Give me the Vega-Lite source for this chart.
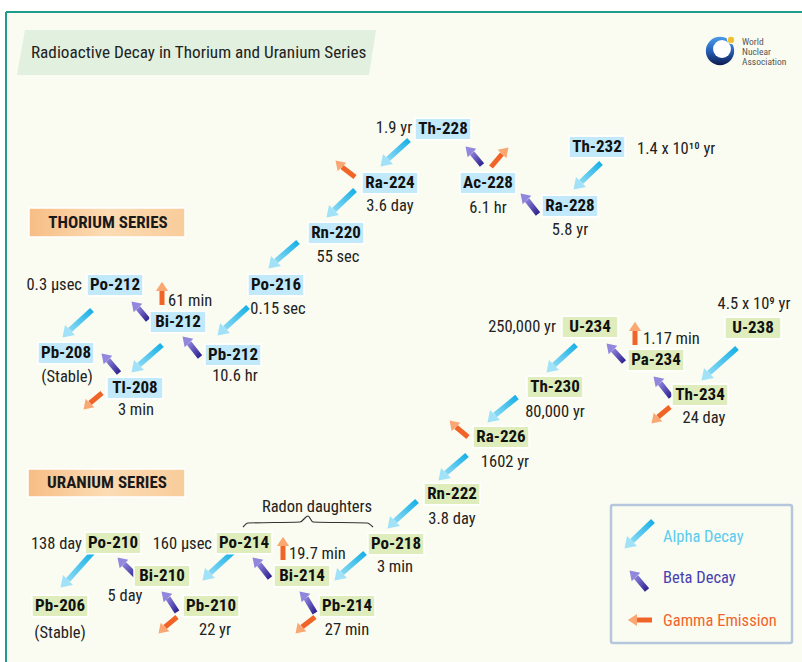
{
  "$schema": "https://vega.github.io/schema/vega-lite/v6.json",
  "width": 802,
  "height": 662,
  "autosize": {"type": "none"},
  "padding": 0,
  "background": "#ffffff",
  "config": {
    "view": {"stroke": null},
    "text": {"font": "Liberation Sans Narrow, Arial Narrow, Roboto Condensed, DejaVu Sans Condensed, sans-serif"}
  },
  "resolve": {"scale": {"color": "independent", "size": "independent", "angle": "independent"}},
  "datasets": {
    "frame": [{"x": 6, "y": 12, "x2": 802, "y2": 662}],
    "border": [{"x": 6, "y": 12, "x2": 802, "y2": 12}, {"x": 6, "y": 12, "x2": 6, "y2": 662}],
    "titlebar": [{"y": 30, "x": 25, "x2": 376}, {"y": 75, "x": 17, "x2": 369}],
    "title": [{"x": 31, "y": 53, "text": "Radioactive Decay in Thorium and Uranium Series"}],
    "logo": [
      {"part": "ring", "x": 720, "y": 51},
      {"part": "hole", "x": 722, "y": 49},
      {"part": "gap", "x": 732, "y": 39},
      {"part": "dot", "x": 731, "y": 40}
    ],
    "logotext": [
      {"x": 742, "y": 42, "text": "World"},
      {"x": 742, "y": 52, "text": "Nuclear"},
      {"x": 742, "y": 62, "text": "Association"}
    ],
    "series": [
      {"text": "THORIUM SERIES", "x": 29, "x2": 185, "y": 208, "y2": 237, "xc": 108, "yc": 223},
      {"text": "URANIUM SERIES", "x": 28, "x2": 185, "y": 469, "y2": 497, "xc": 107, "yc": 483}
    ],
    "brace": [
      {"i": 0, "x": 243, "y": 527},
      {"i": 1, "x": 248, "y": 523},
      {"i": 2, "x": 300, "y": 522},
      {"i": 3, "x": 308, "y": 516},
      {"i": 4, "x": 313, "y": 522},
      {"i": 5, "x": 367, "y": 523},
      {"i": 6, "x": 373, "y": 527}
    ],
    "notes": [{"x": 317, "y": 507, "text": "Radon daughters"}],
    "arrows": [
      {"type": "alpha", "dir": "dl", "x": 601, "y": 163, "x2": 581, "y2": 182},
      {"type": "alpha", "dir": "dl", "x": 409, "y": 140, "x2": 388, "y2": 159},
      {"type": "alpha", "dir": "dl", "x": 355, "y": 190, "x2": 334, "y2": 210},
      {"type": "alpha", "dir": "dl", "x": 298, "y": 242, "x2": 276, "y2": 261},
      {"type": "alpha", "dir": "dl", "x": 248, "y": 307, "x2": 225, "y2": 328},
      {"type": "alpha", "dir": "dl", "x": 162, "y": 345, "x2": 139, "y2": 365},
      {"type": "alpha", "dir": "dl", "x": 92, "y": 310, "x2": 70, "y2": 330},
      {"type": "alpha", "dir": "dl", "x": 737, "y": 348, "x2": 709, "y2": 373},
      {"type": "alpha", "dir": "dl", "x": 576, "y": 345, "x2": 554, "y2": 365},
      {"type": "alpha", "dir": "dl", "x": 517, "y": 397, "x2": 495, "y2": 415},
      {"type": "alpha", "dir": "dl", "x": 467, "y": 455, "x2": 446, "y2": 473},
      {"type": "alpha", "dir": "dl", "x": 417, "y": 501, "x2": 395, "y2": 521},
      {"type": "alpha", "dir": "dl", "x": 365, "y": 553, "x2": 342, "y2": 573},
      {"type": "alpha", "dir": "dl", "x": 233, "y": 552, "x2": 210, "y2": 573},
      {"type": "alpha", "dir": "dl", "x": 93, "y": 552, "x2": 68, "y2": 580},
      {"type": "alpha", "dir": "dl", "x": 653, "y": 521, "x2": 632, "y2": 541},
      {"type": "beta", "dir": "ul", "x": 482, "y": 165, "x2": 472, "y2": 153},
      {"type": "beta", "dir": "ul", "x": 538, "y": 214, "x2": 527, "y2": 200},
      {"type": "beta", "dir": "ul", "x": 148, "y": 320, "x2": 138, "y2": 308},
      {"type": "beta", "dir": "ul", "x": 200, "y": 357, "x2": 189, "y2": 343},
      {"type": "beta", "dir": "ul", "x": 119, "y": 373, "x2": 108, "y2": 360},
      {"type": "beta", "dir": "ul", "x": 624, "y": 362, "x2": 613, "y2": 350},
      {"type": "beta", "dir": "ul", "x": 671, "y": 397, "x2": 660, "y2": 383},
      {"type": "beta", "dir": "ul", "x": 137, "y": 577, "x2": 124, "y2": 564},
      {"type": "beta", "dir": "ul", "x": 177, "y": 612, "x2": 168, "y2": 598},
      {"type": "beta", "dir": "ul", "x": 270, "y": 578, "x2": 259, "y2": 564},
      {"type": "beta", "dir": "ul", "x": 315, "y": 613, "x2": 306, "y2": 598},
      {"type": "beta", "dir": "ul", "x": 647, "y": 590, "x2": 636, "y2": 577},
      {"type": "gamma", "dir": "ul", "x": 355, "y": 177, "x2": 342, "y2": 167},
      {"type": "gamma", "dir": "ur", "x": 491, "y": 167, "x2": 502, "y2": 154},
      {"type": "gamma", "dir": "u", "x": 162, "y": 305, "x2": 162, "y2": 291},
      {"type": "gamma", "dir": "dl", "x": 102, "y": 393, "x2": 90, "y2": 403},
      {"type": "gamma", "dir": "u", "x": 635, "y": 345, "x2": 635, "y2": 331},
      {"type": "gamma", "dir": "dl", "x": 670, "y": 407, "x2": 658, "y2": 417},
      {"type": "gamma", "dir": "ul", "x": 468, "y": 437, "x2": 456, "y2": 427},
      {"type": "gamma", "dir": "u", "x": 283, "y": 560, "x2": 283, "y2": 546},
      {"type": "gamma", "dir": "dl", "x": 177, "y": 617, "x2": 165, "y2": 627},
      {"type": "gamma", "dir": "dl", "x": 315, "y": 617, "x2": 302, "y2": 627},
      {"type": "gamma", "dir": "l", "x": 652, "y": 620, "x2": 637, "y2": 620}
    ],
    "nodes": [
      {"name": "Th-232", "series": "thorium", "x": 597, "y": 147},
      {"name": "Th-228", "series": "thorium", "x": 443, "y": 129},
      {"name": "Ra-228", "series": "thorium", "x": 570, "y": 206},
      {"name": "Ac-228", "series": "thorium", "x": 488, "y": 183},
      {"name": "Ra-224", "series": "thorium", "x": 390, "y": 183},
      {"name": "Rn-220", "series": "thorium", "x": 336, "y": 233},
      {"name": "Po-216", "series": "thorium", "x": 276, "y": 285},
      {"name": "Pb-212", "series": "thorium", "x": 233, "y": 355},
      {"name": "Bi-212", "series": "thorium", "x": 178, "y": 322},
      {"name": "Po-212", "series": "thorium", "x": 115, "y": 285},
      {"name": "Tl-208", "series": "thorium", "x": 135, "y": 388},
      {"name": "Pb-208", "series": "thorium", "x": 66, "y": 353},
      {"name": "U-238", "series": "uranium", "x": 753, "y": 328},
      {"name": "Th-234", "series": "uranium", "x": 700, "y": 395},
      {"name": "Pa-234", "series": "uranium", "x": 656, "y": 360},
      {"name": "U-234", "series": "uranium", "x": 590, "y": 327},
      {"name": "Th-230", "series": "uranium", "x": 555, "y": 387},
      {"name": "Ra-226", "series": "uranium", "x": 501, "y": 437},
      {"name": "Rn-222", "series": "uranium", "x": 452, "y": 494},
      {"name": "Po-218", "series": "uranium", "x": 396, "y": 544},
      {"name": "Pb-214", "series": "uranium", "x": 347, "y": 606},
      {"name": "Bi-214", "series": "uranium", "x": 302, "y": 576},
      {"name": "Po-214", "series": "uranium", "x": 244, "y": 543},
      {"name": "Pb-210", "series": "uranium", "x": 211, "y": 606},
      {"name": "Bi-210", "series": "uranium", "x": 162, "y": 576},
      {"name": "Po-210", "series": "uranium", "x": 113, "y": 543},
      {"name": "Pb-206", "series": "uranium", "x": 60, "y": 606}
    ],
    "halflives": [
      {"text": "1.9 yr", "anchor": "center", "x": 394, "y": 128},
      {"text": "3.6 day", "anchor": "center", "x": 390, "y": 206},
      {"text": "6.1 hr", "anchor": "center", "x": 488, "y": 208},
      {"text": "5.8 yr", "anchor": "center", "x": 570, "y": 230},
      {"text": "55 sec", "anchor": "center", "x": 338, "y": 257},
      {"text": "0.15 sec", "anchor": "center", "x": 278, "y": 309},
      {"text": "10.6 hr", "anchor": "center", "x": 235, "y": 376},
      {"text": "(Stable)", "anchor": "center", "x": 67, "y": 377},
      {"text": "3 min", "anchor": "center", "x": 136, "y": 410},
      {"text": "4.5 x 10⁹ yr", "anchor": "center", "x": 754, "y": 304},
      {"text": "80,000 yr", "anchor": "center", "x": 555, "y": 412},
      {"text": "24 day", "anchor": "center", "x": 704, "y": 418},
      {"text": "1602 yr", "anchor": "center", "x": 505, "y": 462},
      {"text": "3.8 day", "anchor": "center", "x": 452, "y": 519},
      {"text": "3 min", "anchor": "center", "x": 395, "y": 567},
      {"text": "5 day", "anchor": "center", "x": 125, "y": 596},
      {"text": "22 yr", "anchor": "center", "x": 215, "y": 630},
      {"text": "27 min", "anchor": "center", "x": 347, "y": 630},
      {"text": "(Stable)", "anchor": "center", "x": 60, "y": 633},
      {"text": "1.4 x 10¹⁰ yr", "anchor": "left", "x": 637, "y": 149},
      {"text": "61 min", "anchor": "left", "x": 168, "y": 301},
      {"text": "1.17 min", "anchor": "left", "x": 643, "y": 339},
      {"text": "19.7 min", "anchor": "left", "x": 289, "y": 554},
      {"text": "0.3 µsec", "anchor": "right", "x": 82, "y": 285},
      {"text": "250,000 yr", "anchor": "right", "x": 556, "y": 327},
      {"text": "138 day", "anchor": "right", "x": 82, "y": 544},
      {"text": "160 µsec", "anchor": "right", "x": 212, "y": 544}
    ],
    "legendbox": [{"x": 611, "x2": 792, "y": 505, "y2": 643}],
    "legendtext": [
      {"type": "alpha", "text": "Alpha Decay", "x": 663, "y": 537},
      {"type": "beta", "text": "Beta Decay", "x": 663, "y": 578},
      {"type": "gamma", "text": "Gamma Emission", "x": 663, "y": 621}
    ]
  },
  "encoding": {
    "x": {"field": "x", "type": "quantitative", "scale": {"domain": [0, 802], "nice": false, "zero": false}, "axis": null},
    "y": {"field": "y", "type": "quantitative", "scale": {"domain": [0, 662], "nice": false, "zero": false, "reverse": true}, "axis": null}
  },
  "layer": [
    {
      "data": {"name": "frame"},
      "mark": {"type": "rect", "fill": "#fafcf1"},
      "encoding": {"x2": {"field": "x2"}, "y2": {"field": "y2"}}
    },
    {
      "data": {"name": "border"},
      "mark": {"type": "rule", "stroke": "#1f9c8c", "strokeWidth": 2},
      "encoding": {"x2": {"field": "x2"}, "y2": {"field": "y2"}}
    },
    {
      "data": {"name": "titlebar"},
      "mark": {"type": "area", "orient": "horizontal", "fill": "#e1f0df"},
      "encoding": {"x2": {"field": "x2"}}
    },
    {
      "data": {"name": "title"},
      "mark": {"type": "text", "align": "left", "baseline": "middle", "fontSize": 17.2, "color": "#222222"},
      "encoding": {"text": {"field": "text"}}
    },
    {
      "data": {"name": "logo"},
      "transform": [{"filter": "datum.part == 'ring'"}],
      "mark": {"type": "point", "shape": "circle", "filled": true, "size": 800, "opacity": 1,
        "fill": {"gradient": "linear", "x1": 0, "y1": 0, "x2": 0, "y2": 1, "stops": [{"offset": 0, "color": "#4a9be6"}, {"offset": 0.45, "color": "#2a66c0"}, {"offset": 1, "color": "#0b1b50"}]}}
    },
    {
      "data": {"name": "logo"},
      "transform": [{"filter": "datum.part == 'hole'"}],
      "mark": {"type": "point", "shape": "circle", "filled": true, "size": 320, "opacity": 1, "fill": "#ffffff"}
    },
    {
      "data": {"name": "logo"},
      "transform": [{"filter": "datum.part == 'gap'"}],
      "mark": {"type": "point", "shape": "circle", "filled": true, "size": 110, "opacity": 1, "fill": "#fafcf1"}
    },
    {
      "data": {"name": "logo"},
      "transform": [{"filter": "datum.part == 'dot'"}],
      "mark": {"type": "point", "shape": "circle", "filled": true, "size": 40, "opacity": 1, "fill": "#f0c030"}
    },
    {
      "data": {"name": "logotext"},
      "mark": {"type": "text", "align": "left", "baseline": "middle", "fontSize": 9.5, "color": "#555555"},
      "encoding": {"text": {"field": "text"}}
    },
    {
      "data": {"name": "series"},
      "mark": {"type": "rect", "stroke": "#ffffff", "strokeWidth": 1.5,
        "fill": {"gradient": "linear", "x1": 0, "y1": 0, "x2": 1, "y2": 0, "stops": [{"offset": 0, "color": "#f7bd85"}, {"offset": 0.5, "color": "#fcdcb4"}, {"offset": 1, "color": "#f9cc9a"}]}},
      "encoding": {"x2": {"field": "x2"}, "y2": {"field": "y2"}}
    },
    {
      "data": {"name": "series"},
      "mark": {"type": "text", "align": "center", "baseline": "middle", "fontSize": 17, "fontWeight": "bold", "color": "#1a1a1a"},
      "encoding": {
        "x": {"field": "xc", "type": "quantitative", "scale": {"domain": [0, 802], "nice": false, "zero": false}, "axis": null},
        "y": {"field": "yc", "type": "quantitative", "scale": {"domain": [0, 662], "nice": false, "zero": false, "reverse": true}, "axis": null},
        "text": {"field": "text"}
      }
    },
    {
      "data": {"name": "brace"},
      "mark": {"type": "line", "stroke": "#333333", "strokeWidth": 1.2, "interpolate": "monotone"},
      "encoding": {"order": {"field": "i"}}
    },
    {
      "data": {"name": "notes"},
      "mark": {"type": "text", "align": "center", "baseline": "middle", "fontSize": 16.5, "color": "#222222"},
      "encoding": {"text": {"field": "text"}}
    },
    {
      "data": {"name": "arrows"},
      "transform": [{"filter": "datum.type == 'alpha'"}],
      "mark": {"type": "rule", "strokeWidth": 5.5,
        "stroke": {"gradient": "linear", "x1": 1, "y1": 0, "x2": 0, "y2": 1, "stops": [{"offset": 0, "color": "#18b0e6"}, {"offset": 1, "color": "#86d8f4"}]}},
      "encoding": {"x2": {"field": "x2"}, "y2": {"field": "y2"}}
    },
    {
      "data": {"name": "arrows"},
      "transform": [{"filter": "datum.type == 'beta'"}],
      "mark": {"type": "rule", "strokeWidth": 5.5,
        "stroke": {"gradient": "linear", "x1": 1, "y1": 1, "x2": 0, "y2": 0, "stops": [{"offset": 0, "color": "#2e2290"}, {"offset": 1, "color": "#8a7fd8"}]}},
      "encoding": {"x2": {"field": "x2"}, "y2": {"field": "y2"}}
    },
    {
      "data": {"name": "arrows"},
      "transform": [{"filter": "datum.type == 'gamma'"}],
      "mark": {"type": "rule", "strokeWidth": 5, "stroke": "#f06428"},
      "encoding": {"x2": {"field": "x2"}, "y2": {"field": "y2"}}
    },
    {
      "data": {"name": "arrows"},
      "mark": {"type": "point", "shape": "M0,-1.5L1,0L-1,0Z", "filled": true, "opacity": 1, "strokeWidth": 0},
      "encoding": {
        "x": {"field": "x2", "type": "quantitative", "scale": {"domain": [0, 802], "nice": false, "zero": false}, "axis": null},
        "y": {"field": "y2", "type": "quantitative", "scale": {"domain": [0, 662], "nice": false, "zero": false, "reverse": true}, "axis": null},
        "angle": {"field": "dir", "type": "nominal", "scale": {"type": "ordinal", "domain": ["dl", "ul", "u", "ur", "l"], "range": [225, 315, 0, 45, 270]}, "legend": null},
        "color": {"field": "type", "type": "nominal", "scale": {"domain": ["alpha", "beta", "gamma"], "range": ["#a2e2f8", "#9187dc", "#f9a874"]}, "legend": null},
        "size": {"field": "type", "type": "nominal", "scale": {"type": "ordinal", "domain": ["alpha", "beta", "gamma"], "range": [200, 150, 150]}, "legend": null}
      }
    },
    {
      "data": {"name": "nodes"},
      "mark": {"type": "point", "shape": "M-1,-0.38H1V0.38H-1Z", "filled": true, "opacity": 1, "size": 3136, "stroke": "#ffffff", "strokeWidth": 1.5},
      "encoding": {
        "color": {"field": "series", "type": "nominal", "scale": {"domain": ["thorium", "uranium"], "range": ["#c2e9fa", "#deedbb"]}, "legend": null}
      }
    },
    {
      "data": {"name": "nodes"},
      "mark": {"type": "text", "align": "center", "baseline": "middle", "fontSize": 17, "fontWeight": "bold", "color": "#111111"},
      "encoding": {"text": {"field": "name"}}
    },
    {
      "data": {"name": "halflives"},
      "transform": [{"filter": "datum.anchor == 'center'"}],
      "mark": {"type": "text", "align": "center", "baseline": "middle", "fontSize": 16.5, "color": "#222222"},
      "encoding": {"text": {"field": "text"}}
    },
    {
      "data": {"name": "halflives"},
      "transform": [{"filter": "datum.anchor == 'left'"}],
      "mark": {"type": "text", "align": "left", "baseline": "middle", "fontSize": 16.5, "color": "#222222"},
      "encoding": {"text": {"field": "text"}}
    },
    {
      "data": {"name": "halflives"},
      "transform": [{"filter": "datum.anchor == 'right'"}],
      "mark": {"type": "text", "align": "right", "baseline": "middle", "fontSize": 16.5, "color": "#222222"},
      "encoding": {"text": {"field": "text"}}
    },
    {
      "data": {"name": "legendbox"},
      "mark": {"type": "rect", "fill": null, "stroke": "#b6c6dc", "strokeWidth": 2.5, "cornerRadius": 2},
      "encoding": {"x2": {"field": "x2"}, "y2": {"field": "y2"}}
    },
    {
      "data": {"name": "legendtext"},
      "mark": {"type": "text", "align": "left", "baseline": "middle", "fontSize": 16.5},
      "encoding": {
        "text": {"field": "text"},
        "color": {"field": "type", "type": "nominal", "scale": {"domain": ["alpha", "beta", "gamma"], "range": ["#5ccbf0", "#4a3fb0", "#f2642a"]}, "legend": null}
      }
    }
  ]
}
